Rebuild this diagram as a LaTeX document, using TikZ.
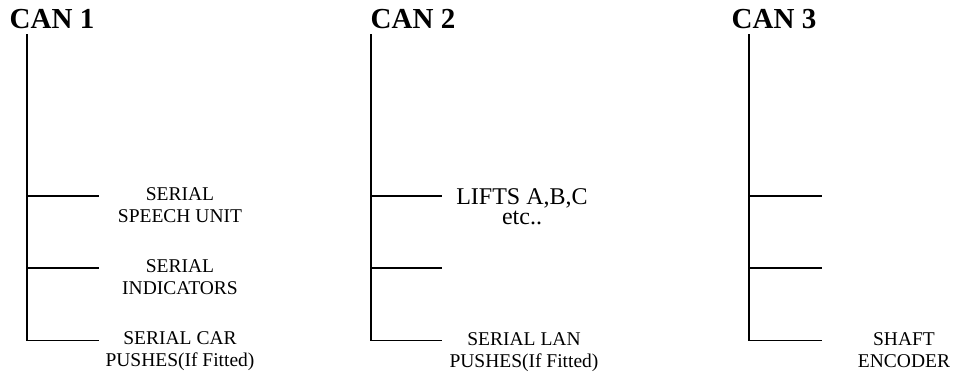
\documentclass[tikz,border=0pt]{standalone}
\usepackage{fontspec}
\setmainfont{Liberation Serif}
\begin{document}
\begin{tikzpicture}[x=1pt,y=-1pt,
  cantitle/.style={font=\fontsize{29}{34}\selectfont\bfseries, inner sep=0pt, anchor=base},
  lbl/.style={font=\fontsize{19.5}{22}\selectfont, inner sep=0pt, anchor=north, align=center},
  biglbl/.style={font=\fontsize{24}{20}\selectfont, inner sep=0pt, anchor=north, align=center},
  bus/.style={line width=2pt},
  tap/.style={line width=1.8pt}]
\useasboundingbox (0,0) rectangle (953,372);

% titles
\node[cantitle] (t1) at (52,28) {CAN 1};
\node[cantitle] (t2) at (413,28) {CAN 2};
\node[cantitle] (t3) at (774,28) {CAN 3};

% bus coordinates
\coordinate (a1) at (27,34);  \coordinate (b1) at (27,340.5);
\coordinate (a2) at (371,34); \coordinate (b2) at (371,340.5);
\coordinate (a3) at (749,34); \coordinate (b3) at (749,340.5);

% junctions and tap ends
\foreach \i/\x/\e in {1/27/99, 2/371/442, 3/749/822}{
  \coordinate (j\i1) at (\x,196);   \coordinate (e\i1) at (\e,196);
  \coordinate (j\i2) at (\x,268.3); \coordinate (e\i2) at (\e,268.3);
  \coordinate (e\i3) at (\e,340.5);
}

\draw[bus] (a1) -- (b1);
\draw[bus] (a2) -- (b2);
\draw[bus] (a3) -- (b3);

\draw[tap] (j11) -- (e11);
\draw[tap] (j12) -- (e12);
\draw[tap] (b1) -- (e13);
\draw[tap] (j21) -- (e21);
\draw[tap] (j22) -- (e22);
\draw[tap] (b2) -- (e23);
\draw[tap] (j31) -- (e31);
\draw[tap] (j32) -- (e32);
\draw[tap] (b3) -- (e33);

% labels
\node[lbl] (l11) at (180,187) {SERIAL\\SPEECH UNIT};
\node[lbl] (l12) at (180,259) {SERIAL\\INDICATORS};
\node[lbl] (l13) at (180,331) {SERIAL CAR\\PUSHES(If Fitted)};
\node[biglbl] (l21) at (522,188) {LIFTS A,B,C\\etc..};
\node[lbl] (l23) at (524,332) {SERIAL LAN\\PUSHES(If Fitted)};
\node[lbl] (l33) at (904,332) {SHAFT\\ENCODER};
\end{tikzpicture}
\end{document}
